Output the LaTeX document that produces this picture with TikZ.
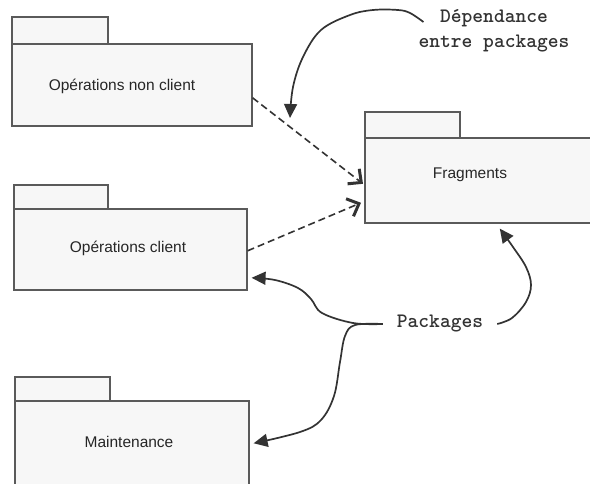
\documentclass[tikz,border=0pt]{standalone}
\usepackage{fontspec}
\setmainfont{Liberation Sans}
\usetikzlibrary{arrows.meta}
\definecolor{boxfill}{HTML}{F7F7F7}
\definecolor{boxline}{HTML}{5A5A5A}
\definecolor{ink}{HTML}{333333}
\begin{document}
\begin{tikzpicture}[x=1pt,y=-1pt,
  pkgpart/.style={draw=boxline, fill=boxfill, line width=1.6pt, anchor=north west, inner sep=0pt},
  pkglabel/.style={font=\fontsize{15.5}{18}\selectfont, text=black!85, inner sep=0pt},
  note/.style={font=\ttfamily\bfseries\fontsize{20.5}{25}\selectfont, text=ink, align=center},
  depends/.style={ink, line width=1.6pt, dash pattern=on 7pt off 4pt,
    -{Straight Barb[length=10pt,width=19pt,line width=3pt]}},
  pointer/.style={ink, line width=1.7pt, -{Triangle[length=14pt,width=13pt]}}]
\useasboundingbox (0,0) rectangle (590,483);

% Opérations non client
\node[pkgpart, minimum width=96pt, minimum height=27pt] (onctab) at (11,16) {};
\node[pkgpart, minimum width=240pt, minimum height=82pt] (onc) at (11,43) {};
\node[pkglabel] (onclbl) at (122,86) {Opérations non client};

% Opérations client
\node[pkgpart, minimum width=94pt, minimum height=24pt] (octab) at (13,184) {};
\node[pkgpart, minimum width=233pt, minimum height=81pt] (oc) at (13,208) {};
\node[pkglabel] (oclbl) at (128,248) {Opérations client};

% Maintenance
\node[pkgpart, minimum width=95pt, minimum height=24pt] (mtab) at (14,376) {};
\node[pkgpart, minimum width=234pt, minimum height=95pt] (mnt) at (14,400) {};
\node[pkglabel] (mntlbl) at (129,442) {Maintenance};

% Fragments
\node[pkgpart, minimum width=95pt, minimum height=26pt] (frtab) at (364,111) {};
\node[pkgpart, minimum width=240pt, minimum height=85pt] (fr) at (364,137) {};
\node[pkglabel] (frlbl) at (470,175) {Fragments};

% notes
\node[note, inner xsep=6pt] (dep) at (494,30.5) {Dépendance\\entre packages};
\node[note, inner xsep=14pt] (pk) at (440,324) {Packages};

% dependencies
\draw[depends] ([yshift=-13pt]onc.east) -- ([xshift=-1pt,yshift=-3.5pt]fr.west);
\draw[depends] ([yshift=-1.5pt]oc.east) -- ([xshift=-3pt,yshift=-22.5pt]fr.west);

\coordinate (deptip) at (290,118);

% pointers
\draw[pointer] plot[smooth, tension=0.6] coordinates {([xshift=11pt,yshift=8.5pt]dep.west) (410,13) (398,10) (373,10) (350,15) (321,30) (303,57) (293,87) (deptip)};
\draw[pointer] plot[smooth, tension=0.6] coordinates {(pk.west) (353,323) (322,313) (311,299) (298,288) (275,280) ([xshift=4pt,yshift=-28.5pt]oc.east)};
\draw[pointer] plot[smooth, tension=0.6] coordinates {(pk.west) (355,325) (345,336) (340,362) (334,396) (321,420) (300,432) ([xshift=4pt,yshift=5pt]mnt.east)};
\draw[pointer] plot[smooth, tension=0.6] coordinates {(pk.east) (512,318) (526,302) (531,285) (526,267) (513,247) ([xshift=15pt,yshift=-5pt]fr.south)};
\end{tikzpicture}
\end{document}
